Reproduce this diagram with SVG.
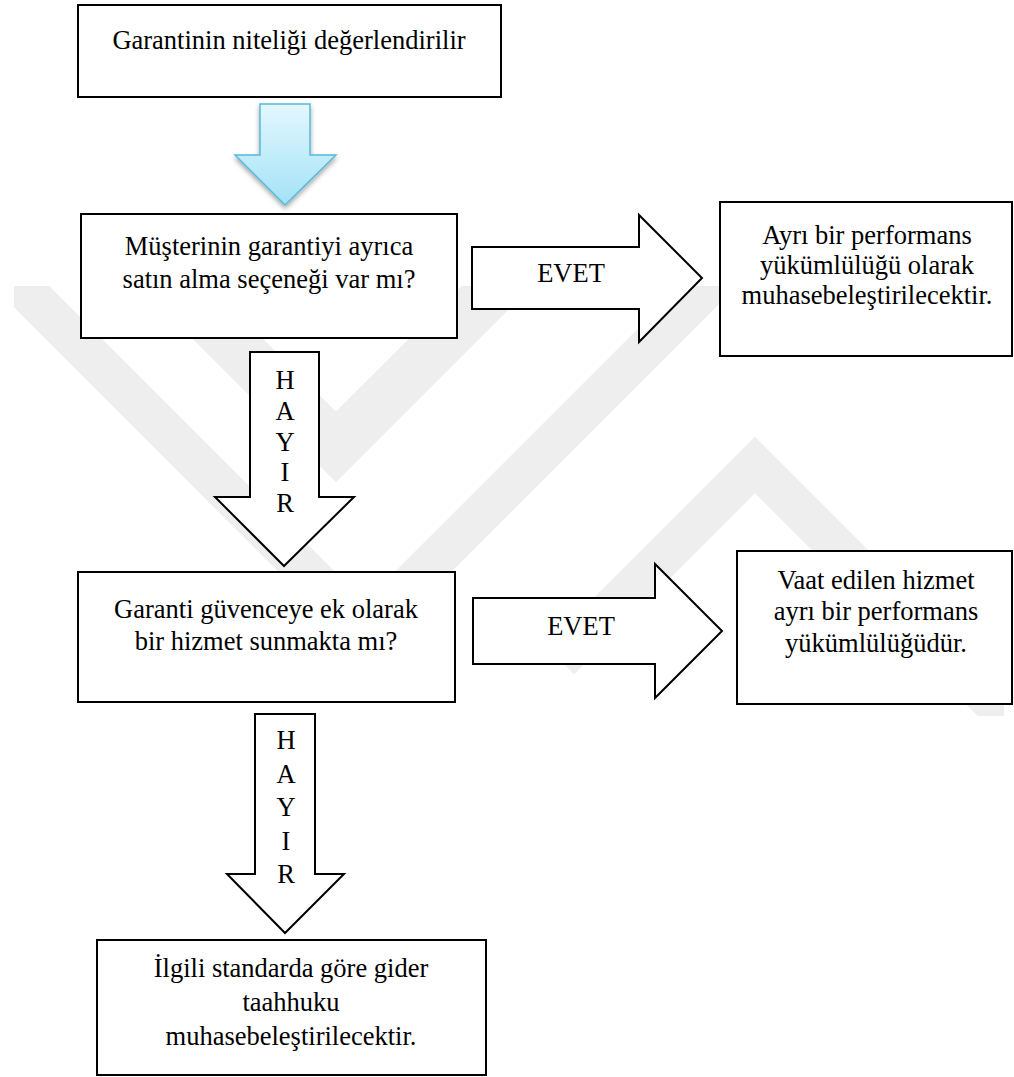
<svg xmlns="http://www.w3.org/2000/svg" width="1014" height="1077" viewBox="0 0 1014 1077" font-family="'Liberation Serif', 'Times New Roman', Tinos, 'DejaVu Serif', serif">
  <defs>
    <linearGradient id="blueFill" x1="0" y1="0" x2="0" y2="1">
      <stop offset="0" stop-color="#e3f7fe"/>
      <stop offset="1" stop-color="#a3e2f6"/>
    </linearGradient>
    <filter id="softShadow" x="-20%" y="-20%" width="140%" height="150%">
      <feGaussianBlur in="SourceAlpha" stdDeviation="2.5"/>
      <feOffset dx="0" dy="3" result="blur"/>
      <feComponentTransfer><feFuncA type="linear" slope="0.35"/></feComponentTransfer>
      <feMerge><feMergeNode/><feMergeNode in="SourceGraphic"/></feMerge>
    </filter>
    <clipPath id="emblemArea">
      <rect x="14" y="286" width="990" height="430"/>
    </clipPath>
  </defs>
  <style>
    .box { fill: #ffffff; stroke: #000000; stroke-width: 2; }
    .arrow { fill: #ffffff; stroke: #000000; stroke-width: 2; stroke-linejoin: miter; }
    .label { font-family: 'Liberation Serif', 'Times New Roman', Tinos, 'DejaVu Serif', serif; font-size: 26.5px; fill: #000000; text-anchor: middle; }
    .band { fill: none; stroke: #eeeeee; stroke-linejoin: miter; stroke-linecap: butt; }
  </style>

  <rect width="1014" height="1077" fill="#ffffff"/>

  <!-- faint background emblem -->
  <g id="emblem" clip-path="url(#emblemArea)">
    <path class="band" stroke-width="40" d="M -10,255 L 365,630 L 1014,-19"/>
    <path class="band" stroke-width="50" d="M 0,111 L 336,447 L 760,23"/>
    <path class="band" stroke-width="40" d="M 560,660 L 755,465 L 1014,724"/>
  </g>

  <!-- connectors -->
  <g id="connectors">
    <polygon id="arrow-start" points="260,104 310,104 310,155 336,155 285,205 235,155 260,155" fill="url(#blueFill)" stroke="#55b9d9" stroke-width="1.5" filter="url(#softShadow)"/>
    <polygon id="arrow-yes-1" class="arrow" points="472,247 639,247 639,215 702,278 639,342 639,309 472,309"/>
    <text class="label" x="571" y="282">EVET</text>
    <polygon id="arrow-no-1" class="arrow" points="250,352 319,352 319,497 354,497 284,566 215,497 250,497"/>
    <text class="label" x="285" y="389">H</text>
    <text class="label" x="285" y="420">A</text>
    <text class="label" x="285" y="451">Y</text>
    <text class="label" x="285" y="481">I</text>
    <text class="label" x="285" y="512">R</text>
    <polygon id="arrow-yes-2" class="arrow" points="473,598 655,598 655,564 722,631 655,698 655,664 473,664"/>
    <text class="label" x="581" y="635">EVET</text>
    <polygon id="arrow-no-2" class="arrow" points="255,714 315,714 315,874 344,874 285,933 227,874 255,874"/>
    <text class="label" x="286" y="749">H</text>
    <text class="label" x="286" y="783">A</text>
    <text class="label" x="286" y="816">Y</text>
    <text class="label" x="286" y="850">I</text>
    <text class="label" x="286" y="883">R</text>
  </g>

  <g id="node-assess">
    <rect class="box" x="78" y="5" width="423" height="92"/>
    <text class="label" x="289" y="49">Garantinin niteliği değerlendirilir</text>
  </g>

  <g id="node-option">
    <rect class="box" x="81" y="214" width="376" height="124"/>
    <text class="label" x="269" y="255">Müşterinin garantiyi ayrıca</text>
    <text class="label" x="269" y="288">satın alma seçeneği var mı?</text>
  </g>

  <g id="node-separate">
    <rect class="box" x="720" y="202" width="292" height="154"/>
    <text class="label" x="867" y="244">Ayrı bir performans</text>
    <text class="label" x="867" y="274">yükümlülüğü olarak</text>
    <text class="label" x="867" y="304">muhasebeleştirilecektir.</text>
  </g>

  <g id="node-service">
    <rect class="box" x="78" y="572" width="377" height="130"/>
    <text class="label" x="266" y="618">Garanti güvenceye ek olarak</text>
    <text class="label" x="266" y="650">bir hizmet sunmakta mı?</text>
  </g>

  <g id="node-service-obligation">
    <rect class="box" x="737" y="551" width="275" height="153"/>
    <text class="label" x="876" y="589">Vaat edilen hizmet</text>
    <text class="label" x="876" y="620">ayrı bir performans</text>
    <text class="label" x="876" y="652">yükümlülüğüdür.</text>
  </g>

  <g id="node-cost">
    <rect class="box" x="97" y="940" width="389" height="135"/>
    <text class="label" x="291" y="977">İlgili standarda göre gider</text>
    <text class="label" x="291" y="1011">taahhuku</text>
    <text class="label" x="291" y="1045">muhasebeleştirilecektir.</text>
  </g>
</svg>
